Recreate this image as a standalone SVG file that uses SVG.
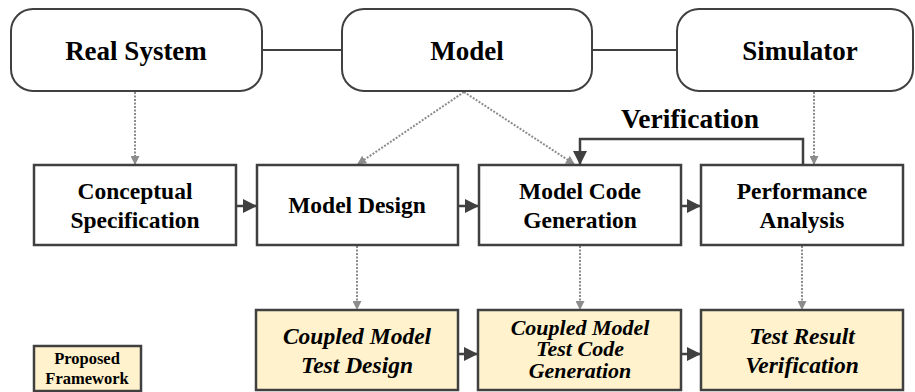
<svg xmlns="http://www.w3.org/2000/svg" width="915" height="392" viewBox="0 0 915 392">
  <style>
    .round { fill: #ffffff; stroke: #404040; stroke-width: 2; }
    .box { fill: #ffffff; stroke: #404040; stroke-width: 2.5; }
    .prop { fill: #fff2cc; stroke: #404040; stroke-width: 2.5; }
    .solid { fill: none; stroke: #404040; stroke-width: 2.5; }
    .link { fill: none; stroke: #404040; stroke-width: 2; }
    .dot { fill: none; stroke: #8c8c8c; stroke-width: 2; stroke-dasharray: 2 1.5; }
  </style>
  <defs>
    <marker id="ahBig" markerWidth="14" markerHeight="14" refX="13" refY="7" orient="auto" markerUnits="userSpaceOnUse">
      <path d="M0,0 L14,7 L0,14 z" fill="#404040"/>
    </marker>
    <marker id="ahDot" markerWidth="9" markerHeight="9" refX="8" refY="4.5" orient="auto" markerUnits="userSpaceOnUse">
      <path d="M0,0 L9,4.5 L0,9 z" fill="#8c8c8c"/>
    </marker>
  </defs>

  <!-- connectors -->
  <g id="connectors">
    <line class="link" x1="262" y1="50" x2="342" y2="50"/>
    <line class="link" x1="592" y1="50" x2="677" y2="50"/>

    <line class="dot" x1="135" y1="92" x2="135" y2="164" marker-end="url(#ahDot)"/>
    <line class="dot" x1="464" y1="92" x2="358" y2="164" marker-end="url(#ahDot)"/>
    <line class="dot" x1="464" y1="92" x2="574" y2="164" marker-end="url(#ahDot)"/>
    <line class="dot" x1="814" y1="92" x2="814" y2="164" marker-end="url(#ahDot)"/>

    <line class="solid" x1="236" y1="206" x2="256" y2="206" marker-end="url(#ahBig)"/>
    <line class="solid" x1="458" y1="206" x2="478" y2="206" marker-end="url(#ahBig)"/>
    <line class="solid" x1="681" y1="206" x2="700" y2="206" marker-end="url(#ahBig)"/>

    <path class="solid" d="M803,165 V139 H580 V164" marker-end="url(#ahBig)"/>

    <line class="dot" x1="357" y1="246" x2="357" y2="309" marker-end="url(#ahDot)"/>
    <line class="dot" x1="580" y1="246" x2="580" y2="309" marker-end="url(#ahDot)"/>
    <line class="dot" x1="802" y1="246" x2="802" y2="309" marker-end="url(#ahDot)"/>

    <line class="solid" x1="458" y1="354" x2="477" y2="354" marker-end="url(#ahBig)"/>
    <line class="solid" x1="681" y1="354" x2="700" y2="354" marker-end="url(#ahBig)"/>
  </g>

  <!-- all labels: bold serif, centred -->
  <g font-family="Liberation Serif" font-weight="bold" text-anchor="middle" fill="#000000">
    <text x="690" y="128" font-size="27.5">Verification</text>

    <g id="real-system">
      <rect class="round" x="11" y="9" width="251" height="82" rx="22"/>
      <text x="136" y="60" font-size="27">Real System</text>
    </g>
    <g id="model">
      <rect class="round" x="342" y="9" width="250" height="82" rx="22"/>
      <text x="467" y="60" font-size="27">Model</text>
    </g>
    <g id="simulator">
      <rect class="round" x="677" y="9" width="236" height="82" rx="22"/>
      <text x="800" y="60" font-size="27">Simulator</text>
    </g>

    <g id="conceptual-specification" font-size="23.5">
      <rect class="box" x="34" y="165" width="202" height="80"/>
      <text x="135" y="199">Conceptual</text>
      <text x="135" y="228">Specification</text>
    </g>
    <g id="model-design" font-size="23.5">
      <rect class="box" x="257" y="165" width="201" height="80"/>
      <text x="357" y="213">Model Design</text>
    </g>
    <g id="model-code-generation" font-size="23.5">
      <rect class="box" x="479" y="165" width="202" height="80"/>
      <text x="580" y="199">Model Code</text>
      <text x="580" y="228">Generation</text>
    </g>
    <g id="performance-analysis" font-size="23.5">
      <rect class="box" x="701" y="165" width="202" height="80"/>
      <text x="802" y="199">Performance</text>
      <text x="802" y="228">Analysis</text>
    </g>

    <g id="coupled-model-test-design" font-size="23.5" font-style="italic">
      <rect class="prop" x="256" y="310" width="202" height="80"/>
      <text x="357" y="344">Coupled Model</text>
      <text x="357" y="373">Test Design</text>
    </g>
    <g id="coupled-model-test-code-generation" font-size="22" font-style="italic">
      <rect class="prop" x="478" y="310" width="203" height="80"/>
      <text x="580" y="335">Coupled Model</text>
      <text x="580" y="356">Test Code</text>
      <text x="580" y="378">Generation</text>
    </g>
    <g id="test-result-verification" font-size="23.5" font-style="italic">
      <rect class="prop" x="701" y="310" width="202" height="80"/>
      <text x="802" y="344">Test Result</text>
      <text x="802" y="373">Verification</text>
    </g>

    <g id="legend" font-size="16.5">
      <rect class="prop" x="34" y="346" width="107" height="45"/>
      <text x="87" y="364">Proposed</text>
      <text x="87" y="384">Framework</text>
    </g>
  </g>
</svg>
